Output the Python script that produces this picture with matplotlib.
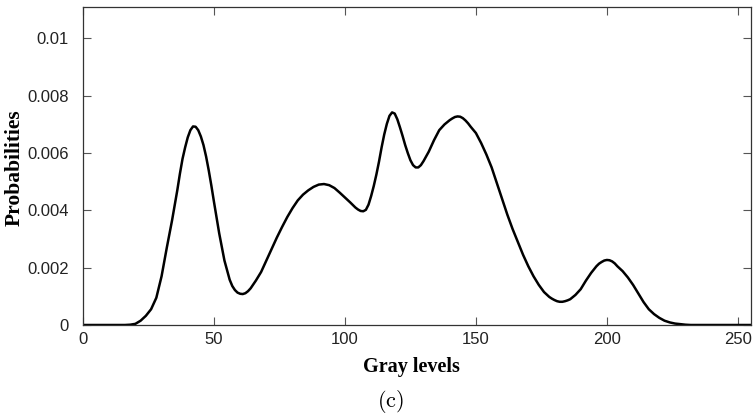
import matplotlib
matplotlib.use("Agg")
import matplotlib.pyplot as plt

# Gray levels and probabilities (x1e-3)
gray_levels = (
    list(range(0, 36, 2))
    + list(range(36, 51))
    + list(range(52, 56, 2))
    + list(range(56, 65))
    + list(range(66, 104, 2))
    + list(range(104, 131))
    + list(range(132, 140, 2))
    + list(range(140, 149))
    + list(range(150, 178, 2))
    + list(range(178, 187))
    + list(range(188, 196, 2))
    + list(range(196, 205))
    + list(range(206, 256, 2))
    + [255]
)
prob_e3 = (
    # 0-34 step 2
    [0, 0, 0, 0, 0, 0, 0, 0, 0, 0.01, 0.04, 0.15, 0.32, 0.55, 0.95, 1.7, 2.7, 3.65]
    # 36-50 step 1
    + [4.7, 5.28, 5.8, 6.2, 6.55, 6.8, 6.93, 6.92, 6.8, 6.58, 6.28, 5.88, 5.4, 4.87, 4.3]
    # 52-54
    + [3.2, 2.25]
    # 56-64 step 1
    + [1.58, 1.36, 1.22, 1.13, 1.09, 1.08, 1.11, 1.18, 1.28]
    # 66-102 step 2
    + [1.55, 1.85, 2.25, 2.65, 3.05, 3.42, 3.77, 4.08, 4.35, 4.55, 4.7, 4.82, 4.9,
       4.92, 4.88, 4.78, 4.62, 4.45, 4.28]
    # 104-130 step 1
    + [4.1, 4.03, 3.98, 3.97, 4.02, 4.2, 4.5, 4.85, 5.25, 5.7, 6.2, 6.65, 7.02, 7.3,
       7.42, 7.38, 7.18, 6.9, 6.6, 6.28, 6.0, 5.75, 5.58, 5.5, 5.5, 5.58, 5.72]
    # 132-138 step 2
    + [6.05, 6.45, 6.8, 7.0]
    # 140-148 step 1
    + [7.15, 7.21, 7.26, 7.28, 7.27, 7.22, 7.14, 7.04, 6.92]
    # 150-176 step 2
    + [6.7, 6.35, 5.95, 5.5, 4.95, 4.4, 3.85, 3.35, 2.9, 2.45, 2.05, 1.7, 1.4, 1.15]
    # 178-186 step 1
    + [0.98, 0.92, 0.87, 0.83, 0.81, 0.81, 0.83, 0.86, 0.9]
    # 188-194 step 2
    + [1.05, 1.25, 1.55, 1.82]
    # 196-204 step 1
    + [2.05, 2.14, 2.2, 2.25, 2.27, 2.26, 2.22, 2.15, 2.05]
    # 206-254 step 2
    + [1.88, 1.66, 1.4, 1.1, 0.8, 0.55, 0.38, 0.25, 0.15, 0.09, 0.05, 0.03, 0.01,
       0, 0, 0, 0, 0, 0, 0, 0, 0, 0, 0, 0]
    # 255
    + [0]
)
probabilities = [v * 1e-3 for v in prob_e3]

x_ticks = [0, 50, 100, 150, 200, 250]
y_ticks = [0, 0.002, 0.004, 0.006, 0.008, 0.01]
y_tick_labels = ["0", "0.002", "0.004", "0.006", "0.008", "0.01"]

plt.rcParams["mathtext.fontset"] = "cm"

fig = plt.figure(figsize=(7.53, 4.18), dpi=100)
ax = fig.add_axes([0.1102, 0.2225, 0.9973 - 0.1102, 0.9833 - 0.2225])

ax.plot(gray_levels, probabilities, color="black", lw=1.8,
        solid_joinstyle="round", solid_capstyle="round")

ax.set_xlim(0, 255)
ax.set_ylim(0, 0.0111)
ax.set_xticks(x_ticks)
ax.set_xticklabels([str(t) for t in x_ticks])
ax.set_yticks(y_ticks)
ax.set_yticklabels(y_tick_labels)

for s in ax.spines.values():
    s.set_color("#333333")
    s.set_linewidth(0.9)

ax.tick_params(direction="in", length=6, width=0.8, color="#555555",
               top=True, right=True, labelsize=12)
ax.tick_params(axis="y", pad=10)
ax.tick_params(axis="x", pad=5)
for lab in ax.get_xticklabels() + ax.get_yticklabels():
    lab.set_fontfamily("Liberation Sans")
    lab.set_color("#222222")

fig.text(0.02, 0.598, "Probabilities", rotation=90, ha="center", va="center",
         fontsize=15.5, fontweight="bold", family="Liberation Serif")
fig.text(0.546, 0.122, "Gray levels", ha="center", va="center",
         fontsize=14.5, fontweight="bold", family="Liberation Serif")
fig.text(0.518, 0.04, r"$\mathrm{(c)}$", ha="center", va="center", fontsize=16)

fig.savefig("out.png", dpi=100)
